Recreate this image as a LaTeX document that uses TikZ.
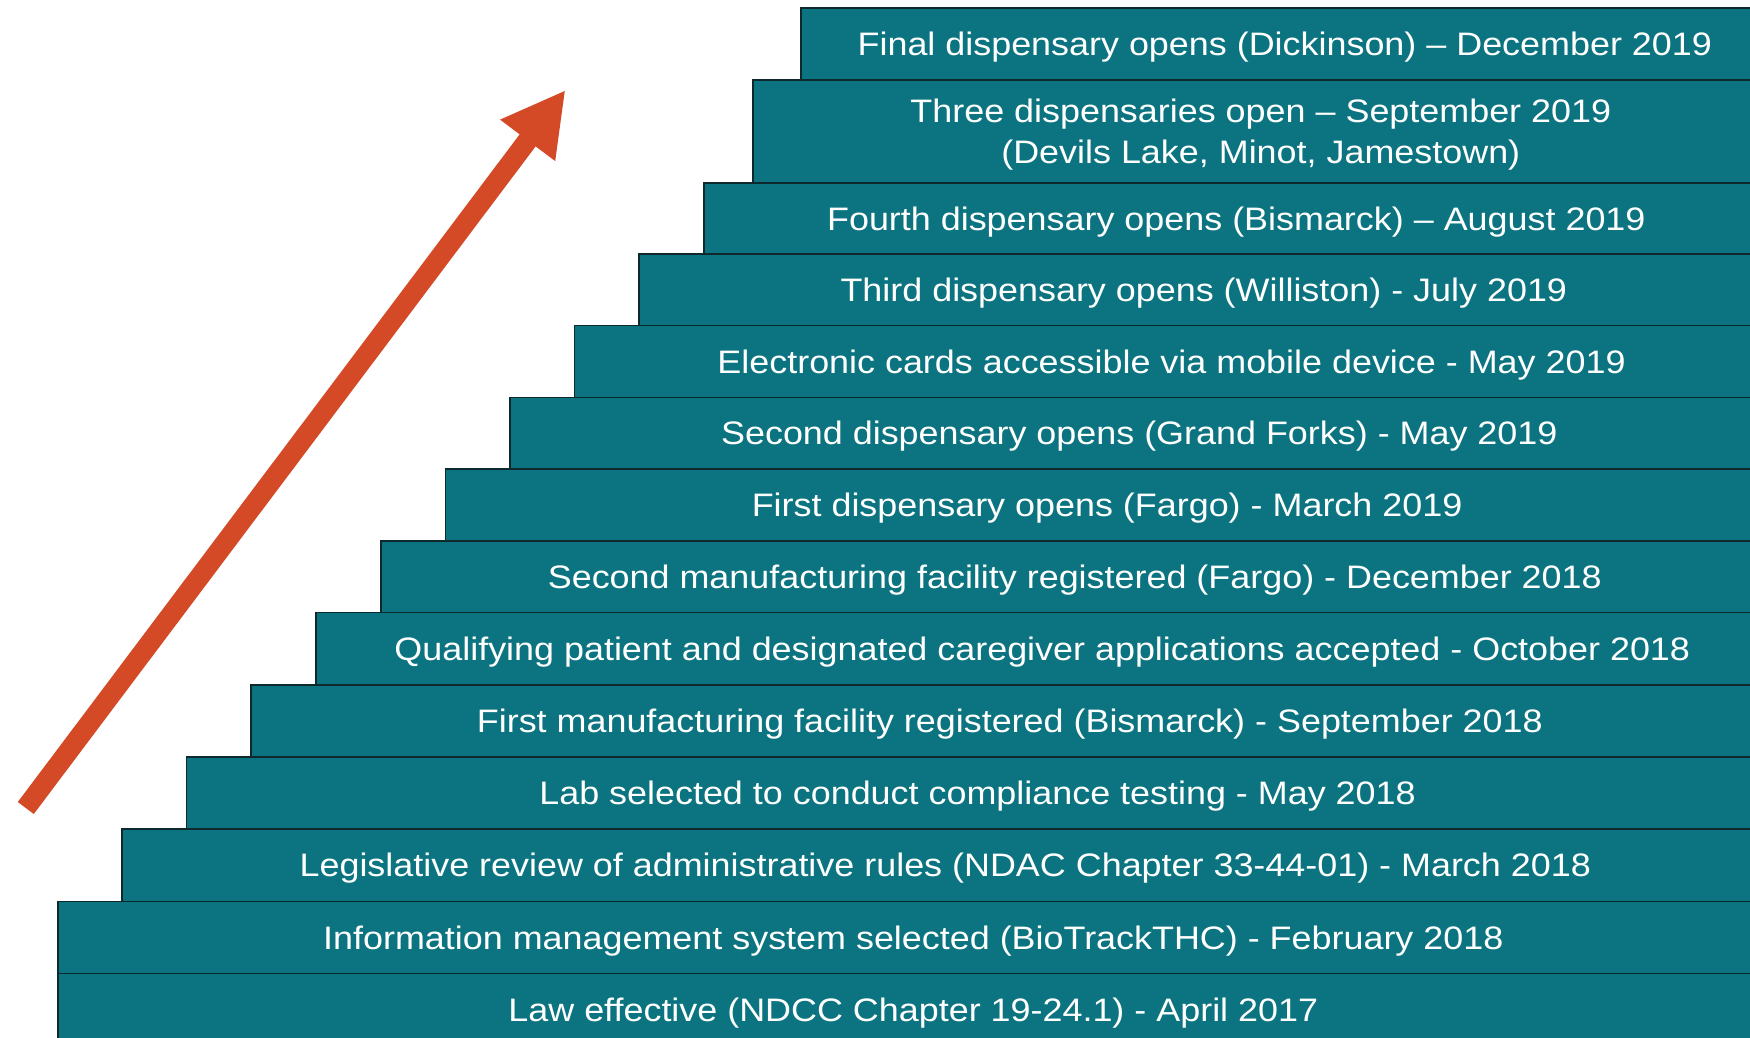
\documentclass[tikz,border=0pt]{standalone}
\usepackage{fontspec}
\setmainfont[FakeStretch=1.105]{Liberation Sans}
\usetikzlibrary{arrows.meta}
\definecolor{stepteal}{RGB}{11,116,128}
\definecolor{stepline}{RGB}{14,40,44}
\definecolor{arroworange}{RGB}{212,74,39}
\tikzset{
  stepbox/.style={draw=stepline, line width=1.6pt, fill=stepteal,
    anchor=north west, inner sep=0pt},
  steptext/.style={text=white, align=center, inner sep=0pt, yshift=-3.3pt,
    font=\fontsize{32.5}{41}\selectfont},
  bigarrow/.style={draw=arroworange, line width=20pt,
    -{Triangle[length=63pt,width=64pt]}}
}
\newcommand{\stepnode}[6]{% name, left, top, bottom, text
  \node[stepbox, minimum width={(1768-#2)*1pt}, minimum height={(#4-#3)*1pt},
    label={[steptext]center:{#5}}] (#1) at (#2,#3) {};}
\begin{document}
\begin{tikzpicture}[x=1pt,y=-1pt]
\useasboundingbox (0,0) rectangle (1750,1038);
\stepnode{b1}{800}{7}{79}{Final dispensary opens (Dickinson) – December 2019}{}
\stepnode{b2}{752}{79}{182}{Three dispensaries open – September 2019\\(Devils Lake, Minot, Jamestown)}{}
\stepnode{b3}{703}{182}{253}{Fourth dispensary opens (Bismarck) – August 2019}{}
\stepnode{b4}{638}{253}{324.5}{Third dispensary opens (Williston) - July 2019}{}
\stepnode{b5}{573.5}{324.5}{396.5}{Electronic cards accessible via mobile device - May 2019}{}
\stepnode{b6}{509}{396.5}{468}{Second dispensary opens (Grand Forks) - May 2019}{}
\stepnode{b7}{444.5}{468}{540}{First dispensary opens (Fargo) - March 2019}{}
\stepnode{b8}{380}{540}{611.5}{Second manufacturing facility registered (Fargo) - December 2018}{}
\stepnode{b9}{315}{611.5}{684}{Qualifying patient and designated caregiver applications accepted - October 2018}{}
\stepnode{b10}{250}{684}{756}{First manufacturing facility registered (Bismarck) - September 2018}{}
\stepnode{b11}{185.5}{756}{828}{Lab selected to conduct compliance testing - May 2018}{}
\stepnode{b12}{121}{828}{900.5}{Legislative review of administrative rules (NDAC Chapter 33-44-01) - March 2018}{}
\stepnode{b13}{57}{900.5}{972.5}{Information management system selected (BioTrackTHC) - February 2018}{}
\stepnode{b14}{57}{972.5}{1045}{Law effective (NDCC Chapter 19-24.1) - April 2017}{}
\coordinate (tail) at (25.8,808);
\coordinate (tip) at (565.5,90);
\draw[bigarrow] (tail) -- (tip);
\end{tikzpicture}
\end{document}
